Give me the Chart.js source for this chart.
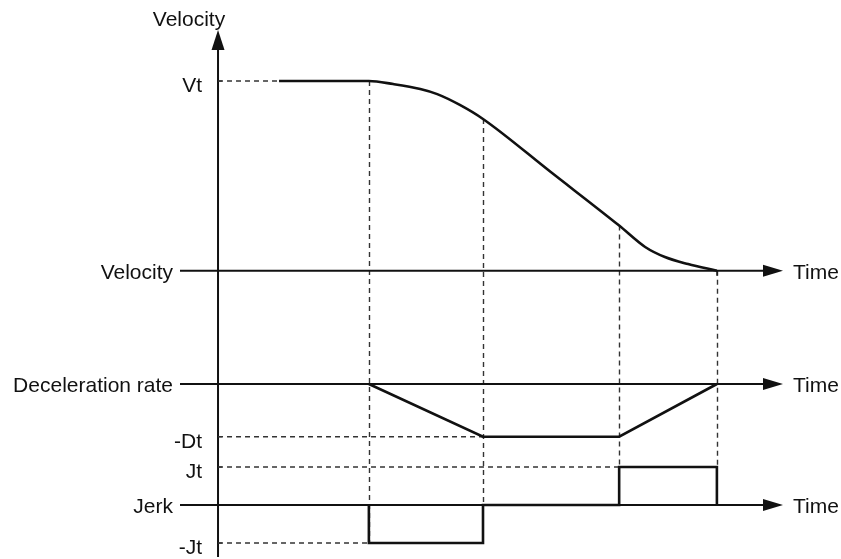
<!DOCTYPE html>
<html>
<head>
<meta charset="utf-8">
<title>Deceleration profile</title>
<script src="https://cdn.jsdelivr.net/npm/chart.js@4.4.1/dist/chart.umd.min.js"></script>
<style>
  html, body { margin: 0; padding: 0; background: #fff; }
  #wrap { width: 841px; height: 559px; }
</style>
</head>
<body>
<div id="wrap"><canvas id="profileChart" width="841" height="559"></canvas></div>
<script>
// values (time in arbitrary units, levels normalised to 1)

const holdStart = 1.08;
const phaseTimes = [2.67, 4.69, 7.1, 8.83];

const velTime = [1.08, 2.67, 3.1, 3.58, 3.88, 4.28, 4.69, 5.89, 7.1, 7.56, 7.91, 8.32, 8.83];
const velValue = [1, 1, 0.984, 0.958, 0.931, 0.874, 0.8, 0.52, 0.238, 0.125, 0.072, 0.035, 0];

const decelTime = [2.67, 4.69, 7.1, 8.83];
const decelValue = [0, -1, -1, 0];

// corners of the jerk pulses
const jerkTime = [2.67, 2.67, 4.69, 4.69, 7.1, 7.1, 8.83, 8.83];
const jerkValue = [0, -1, -1, 0, 0, 1, 1, 0];

const axisNames = ["Velocity", "Deceleration rate", "Jerk"];
const axisIds = ["yV", "yA", "yJ"];
const levelLabels = ["Vt", "-Dt", "Jt", "-Jt"];
const levelValues = [1, -1, 1, -1];
const levelAxes = ["yV", "yA", "yJ", "yJ"];
const levelEnds = [holdStart, phaseTimes[1], phaseTimes[2], phaseTimes[0]];

const INK = "#111";
const DASH = "#333";
const FONT = '21px "Liberation Sans", Arial, sans-serif';

function toPoints(xs, ys) {
  return xs.map((t, i) => ({ x: t, y: ys[i] }));
}

function velAt(t) {
  return velValue[velTime.indexOf(t)];
}

// dashed level lines from the vertical axis
const guideSets = levelLabels.map((name, i) => ({
  label: name,
  data: [{ x: 0, y: levelValues[i] }, { x: levelEnds[i], y: levelValues[i] }],
  yAxisID: levelAxes[i],
  borderColor: DASH,
  borderWidth: 1.4,
  borderDash: [5, 4],
  pointRadius: 0,
  order: 3,
}));

function drawLine(ctx, x1, y1, x2, y2) {
  ctx.beginPath();
  ctx.moveTo(x1, y1);
  ctx.lineTo(x2, y2);
  ctx.stroke();
}

function arrowRight(ctx, x, y) {
  ctx.beginPath();
  ctx.moveTo(x, y);
  ctx.lineTo(x - 20, y - 6);
  ctx.lineTo(x - 20, y + 6);
  ctx.closePath();
  ctx.fill();
}

function arrowUp(ctx, x, y) {
  ctx.beginPath();
  ctx.moveTo(x, y);
  ctx.lineTo(x - 6.5, y + 20);
  ctx.lineTo(x + 6.5, y + 20);
  ctx.closePath();
  ctx.fill();
}

// axes, arrows, vertical guides and labels
const diagramPlugin = {
  id: "diagram",
  beforeDatasetsDraw(chart) {
    const ctx = chart.ctx;
    const sx = chart.scales.x;
    const s = chart.scales;
    const area = chart.chartArea;
    ctx.save();

    ctx.strokeStyle = DASH;
    ctx.lineWidth = 1.4;
    ctx.setLineDash([5, 4]);
    const guides = [
      [phaseTimes[0], s.yV.getPixelForValue(1), s.yJ.getPixelForValue(-1)],
      [phaseTimes[1], s.yV.getPixelForValue(velAt(phaseTimes[1])), s.yJ.getPixelForValue(0)],
      [phaseTimes[2], s.yV.getPixelForValue(velAt(phaseTimes[2])), s.yJ.getPixelForValue(1)],
      [phaseTimes[3], s.yV.getPixelForValue(0), s.yJ.getPixelForValue(1)],
    ];
    guides.forEach(([t, y1, y2]) => {
      const px = Math.round(sx.getPixelForValue(t)) + 0.5;
      drawLine(ctx, px, y1, px, y2);
    });
    ctx.setLineDash([]);

    ctx.strokeStyle = INK;
    ctx.fillStyle = INK;
    ctx.lineWidth = 2;
    const x0 = sx.getPixelForValue(0);
    drawLine(ctx, x0, area.top + 18, x0, area.bottom);
    arrowUp(ctx, x0, area.top);

    axisIds.forEach((id) => {
      const y = s[id].getPixelForValue(0);
      drawLine(ctx, area.left, y, area.right - 18, y);
      arrowRight(ctx, area.right, y);
    });

    // small ticks
    ctx.lineWidth = 1.2;
    levelValues.forEach((v, i) => {
      const y = s[levelAxes[i]].getPixelForValue(v);
      drawLine(ctx, x0, y, x0 + 4, y);
    });
    const yv0 = s.yV.getPixelForValue(0);
    drawLine(ctx, sx.getPixelForValue(phaseTimes[3]), yv0, sx.getPixelForValue(phaseTimes[3]), yv0 + 5);
    ctx.restore();
  },
  afterDraw(chart) {
    const ctx = chart.ctx;
    const s = chart.scales;
    const area = chart.chartArea;
    const x0 = s.x.getPixelForValue(0);
    ctx.save();
    ctx.font = FONT;
    ctx.fillStyle = INK;
    ctx.textBaseline = "alphabetic";

    ctx.textAlign = "center";
    ctx.fillText("Velocity", x0 - 29, area.top - 4);

    ctx.textAlign = "right";
    axisIds.forEach((id, i) => {
      ctx.fillText(axisNames[i], x0 - 45, s[id].getPixelForValue(0) + 8);
    });
    levelLabels.forEach((name, i) => {
      ctx.fillText(name, x0 - 16, s[levelAxes[i]].getPixelForValue(levelValues[i]) + 11);
    });

    ctx.textAlign = "left";
    axisIds.forEach((id) => {
      ctx.fillText("Time", area.right + 10, s[id].getPixelForValue(0) + 8);
    });
    ctx.restore();
  },
};

const chart_1 = document.getElementById("profileChart");

new Chart(chart_1, {
  type: "line",
  data: {
    datasets: [
      {
        label: "Velocity",
        data: toPoints(velTime, velValue),
        yAxisID: "yV",
        borderColor: INK,
        borderWidth: 2.6,
        cubicInterpolationMode: "monotone",
        pointRadius: 0,
        order: 1,
      },
      {
        label: "Deceleration rate",
        data: toPoints(decelTime, decelValue),
        yAxisID: "yA",
        borderColor: INK,
        borderWidth: 2.6,
        pointRadius: 0,
        order: 1,
      },
      {
        label: "Jerk",
        data: toPoints(jerkTime, jerkValue),
        yAxisID: "yJ",
        borderColor: INK,
        borderWidth: 2.6,
        pointRadius: 0,
        order: 1,
      },
      ...guideSets,
    ],
  },
  options: {
    responsive: false,
    animation: false,
    layout: { padding: { left: 180, right: 58, top: 30, bottom: 2 } },
    plugins: {
      legend: { display: false },
      tooltip: { enabled: false },
    },
    events: [],
    scales: {
      x: { type: "linear", min: -0.673, max: 10, display: false },
      yV: { type: "linear", min: -1.509, max: 1.269, display: false },
      yA: { type: "linear", min: -3.283, max: 6.717, display: false },
      yJ: { type: "linear", min: -1.368, max: 12.5, display: false },
    },
  },
  plugins: [diagramPlugin],
});
</script>
</body>
</html>
